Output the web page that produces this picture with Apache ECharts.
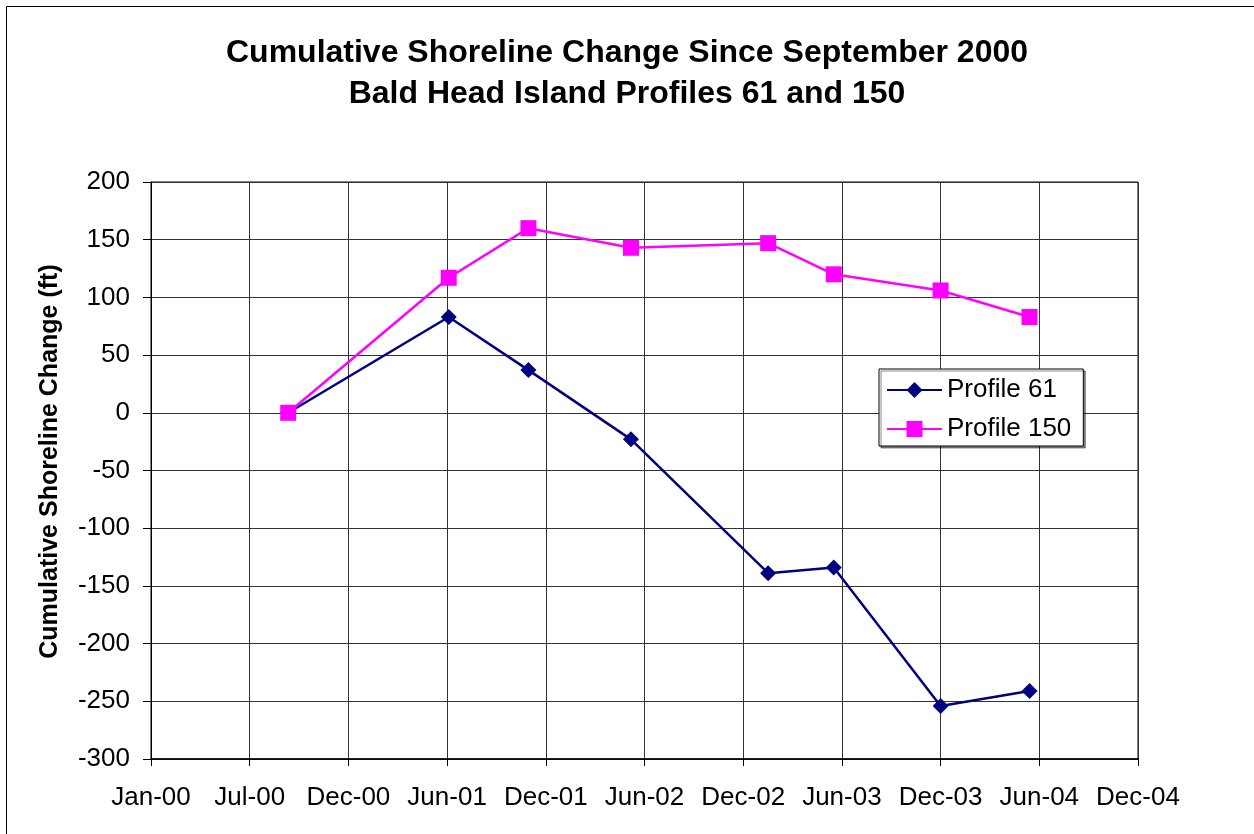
<!DOCTYPE html>
<html>
<head>
<meta charset="utf-8">
<title>Cumulative Shoreline Change</title>
<script src="https://cdn.jsdelivr.net/npm/echarts@6/dist/echarts.min.js"></script>
<style>
  html, body { margin: 0; padding: 0; background: #fff; }
  #chart { width: 1254px; height: 834px; }
</style>
</head>
<body>
<div id="chart"></div>
<script>
// survey dates and cumulative change (ft)
const surveyDates = ['2000-09-10', '2001-07-03', '2001-11-27', '2002-06-04', '2003-02-12', '2003-06-13', '2003-12-27', '2004-06-08'];
const profile61 = [0, 83, 37, -23, -139, -134, -254, -241];
const profile150 = [0, 117, 160, 143, 147, 120, 106, 83];
const seriesNames = ['Profile 61', 'Profile 150'];

// x axis runs in days from Jan 1 2000, ticks every 182 days like the excel sheet
const axisStart = Date.UTC(2000, 0, 1);
const dayMs = 86400000;
const xMin = 0;
const xMax = 1820;
const xStep = 182;
const monthNames = ['Jan', 'Feb', 'Mar', 'Apr', 'May', 'Jun', 'Jul', 'Aug', 'Sep', 'Oct', 'Nov', 'Dec'];

function toDay(s) {
  const p = s.split('-');
  return Math.round((Date.UTC(+p[0], +p[1] - 1, +p[2]) - axisStart) / dayMs);
}

function dayLabel(v) {
  const d = new Date(axisStart + v * dayMs);
  return monthNames[d.getUTCMonth()] + '-' + String(d.getUTCFullYear() % 100).padStart(2, '0');
}

const days = surveyDates.map(toDay);
const font = '"Liberation Sans", Arial, sans-serif';

const chart = echarts.init(document.getElementById('chart'));
chart.setOption({
  animation: false,
  backgroundColor: '#fff',
  textStyle: { fontFamily: font, color: '#000' },
  title: {
    text: 'Cumulative Shoreline Change Since September 2000\nBald Head Island Profiles 61 and 150',
    left: 'center',
    top: 28,
    textStyle: { fontFamily: font, fontSize: 32, fontWeight: 'bold', color: '#000', lineHeight: 41 }
  },
  graphic: [{
    type: 'rect',
    shape: { x: 6.5, y: 6.5, width: 1400, height: 1000 },
    style: { fill: 'none', stroke: '#000', lineWidth: 1 },
    silent: true
  }],
  grid: {
    left: 151,
    right: 116,
    top: 182,
    bottom: 75,
    show: true,
    borderColor: '#000',
    borderWidth: 1,
    containLabel: false,
    outerBoundsMode: 'none'
  },
  legend: {
    orient: 'vertical',
    left: 879,
    top: 369,
    itemWidth: 55,
    itemHeight: 20,
    itemGap: 13,
    padding: [8, 12, 4, 7],
    borderColor: '#000',
    borderWidth: 1,
    backgroundColor: '#fff',
    shadowColor: 'rgba(0,0,0,0.45)',
    shadowOffsetX: 2,
    shadowOffsetY: 2,
    textStyle: { fontFamily: font, fontSize: 26, color: '#000' },
    data: seriesNames
  },
  xAxis: {
    type: 'value',
    min: xMin,
    max: xMax,
    interval: xStep,
    axisLine: { onZero: false, lineStyle: { color: '#000', width: 1.5 } },
    axisTick: { show: true, length: 7, lineStyle: { color: '#000' } },
    axisLabel: { fontFamily: font, fontSize: 26, color: '#000', margin: 26, formatter: dayLabel },
    splitLine: { show: true, lineStyle: { color: '#333', width: 1 } }
  },
  yAxis: {
    type: 'value',
    min: -300,
    max: 200,
    interval: 50,
    name: 'Cumulative Shoreline Change (ft)',
    nameLocation: 'middle',
    nameGap: 88,
    nameTextStyle: { fontFamily: font, fontSize: 25, fontWeight: 'bold', color: '#000', padding: [0, 0, 0, 18] },
    axisLine: { show: true, onZero: false, lineStyle: { color: '#000', width: 1 } },
    axisTick: { show: true, length: 8, lineStyle: { color: '#000' } },
    axisLabel: { fontFamily: font, fontSize: 26, color: '#000', margin: 21 },
    splitLine: { show: true, lineStyle: { color: '#333', width: 1 } }
  },
  series: [
    {
      name: seriesNames[0],
      type: 'line',
      data: days.map((d, i) => [d, profile61[i]]),
      symbol: 'diamond',
      symbolSize: 16,
      color: '#000080',
      lineStyle: { color: '#000080', width: 2.5 },
      itemStyle: { color: '#000080' }
    },
    {
      name: seriesNames[1],
      type: 'line',
      data: days.map((d, i) => [d, profile150[i]]),
      symbol: 'rect',
      symbolSize: 16,
      color: '#FF00FF',
      lineStyle: { color: '#FF00FF', width: 2.5 },
      itemStyle: { color: '#FF00FF' }
    }
  ]
});
</script>
</body>
</html>
